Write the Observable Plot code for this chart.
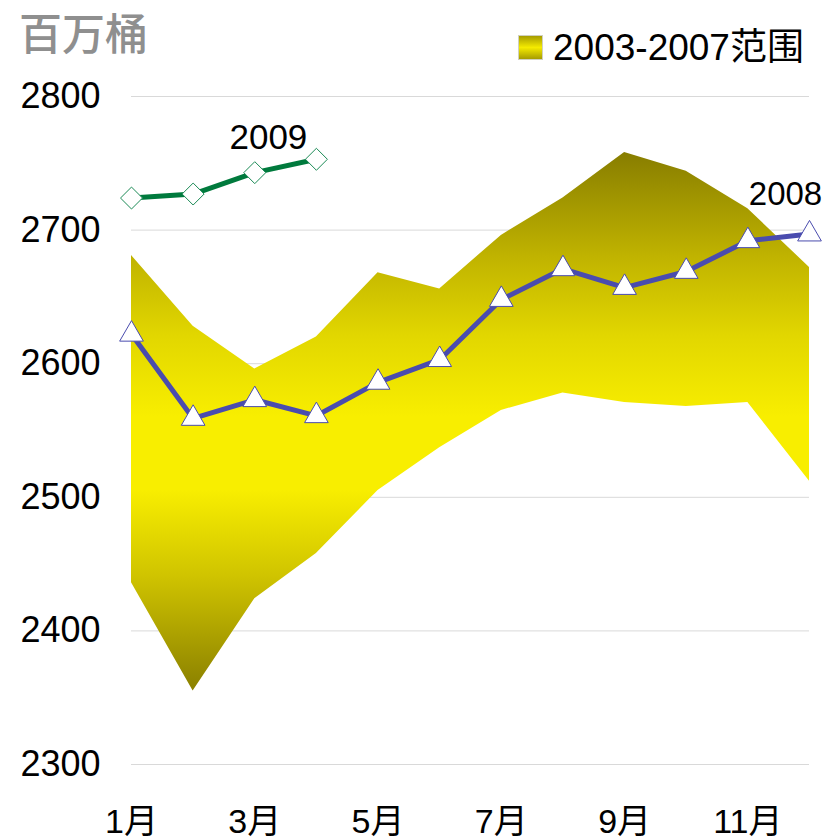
<!DOCTYPE html>
<html>
<head>
<meta charset="utf-8">
<script src="https://cdn.jsdelivr.net/npm/d3@7"></script>
<script src="https://cdn.jsdelivr.net/npm/@observablehq/plot@0.6"></script>
<style>
  html, body { margin: 0; padding: 0; background: #fff; }
  #wrap { width: 829px; font-family: "Liberation Sans", "Noto Sans CJK SC", sans-serif; }
  #header { position: relative; width: 829px; height: 70px; }
  #title { position: absolute; left: 19px; top: 10px; font-size: 43px; line-height: 1; font-weight: 500; color: #8f8f8f; font-family: "Noto Sans CJK SC", sans-serif; white-space: nowrap; }
  #legend { position: absolute; left: 518px; top: 35px; height: 25px; display: flex; align-items: center; white-space: nowrap; }
  #swatch { width: 23px; height: 23px; border: 1px solid #d0d0c0; box-sizing: content-box;
    background: linear-gradient(to bottom, #a69c00 0%, #f5eb00 50%, #a69c00 100%); }
  #legtext { margin-left: 10px; font-size: 37px; line-height: 1; color: #000; }
</style>
</head>
<body>
<div id="wrap">
  <div id="header">
    <div id="title">百万桶</div>
    <div id="legend"><div id="swatch"></div><span id="legtext"></span></div>
  </div>
  <div id="chart"></div>
</div>
<script>
// ---- data ----
const months = [1, 2, 3, 4, 5, 6, 7, 8, 9, 10, 11, 12];
const rangeHigh = [2681, 2628, 2596, 2620, 2668, 2656, 2696, 2724, 2758, 2744, 2716, 2672];
const rangeLow  = [2436, 2355, 2424, 2458, 2505, 2537, 2565, 2578, 2571, 2568, 2571, 2512];
const values2008 = [2622, 2559, 2573, 2561, 2586, 2603, 2648, 2671, 2657, 2669, 2692, 2697];
const months2009 = [1, 2, 3, 4];
const values2009 = [2724, 2727, 2743, 2753];
const yTicks = [2300, 2400, 2500, 2600, 2700, 2800];
const xTicks = [1, 3, 5, 7, 9, 11];
const legendLabel = "2003-2007范围";
const label2008 = "2008";
const label2009 = "2009";

document.getElementById("legtext").textContent = legendLabel;

const band = months.map((m, i) => ({m, lo: rangeLow[i], hi: rangeHigh[i]}));
const s2008 = months.map((m, i) => ({m, v: values2008[i]}));
const s2009 = months2009.map((m, i) => ({m, v: values2009[i]}));

const blue = "#4a4cae";
const green = "#007a3d";

const plot = Plot.plot({
  width: 829,
  height: 770,
  marginTop: 26,
  marginBottom: 76,
  marginLeft: 131,
  marginRight: 20,
  style: {fontFamily: "'Liberation Sans','Noto Sans CJK SC',sans-serif", background: "white", overflow: "visible"},
  x: {domain: [1, 12]},
  y: {domain: [2300, 2800]},
  marks: [
    Plot.ruleY(yTicks, {x1: 1, x2: 12, stroke: "#d9d9d9", strokeWidth: 1}),
    Plot.areaY(band, {x: "m", y1: "lo", y2: "hi", fill: "url(#bandGrad)", className: "band"}),
    Plot.line(s2008, {x: "m", y: "v", stroke: blue, strokeWidth: 5}),
    Plot.dot(s2008, {x: "m", y: "v", symbol: "triangle", r: 8.8, fill: "white", stroke: blue, strokeWidth: 1}),
    Plot.line(s2009, {x: "m", y: "v", stroke: green, strokeWidth: 5}),
    Plot.dot(s2009, {x: "m", y: "v", symbol: "diamond2", r: 9.9, fill: "white", stroke: "#1a8a55", strokeWidth: 1}),
    Plot.text(s2008, Plot.selectLast({x: "m", y: "v", text: () => label2008, dx: -24, dy: -40, fontSize: 33, fill: "black"})),
    Plot.text(s2009, Plot.selectLast({x: "m", y: "v", text: () => label2009, dx: -48, dy: -21, fontSize: 35, fill: "black"})),
    Plot.axisY({ticks: yTicks, tickSize: 0, tickPadding: 31, fontSize: 36, label: null, tickFormat: d => String(d)}),
    Plot.axisX({ticks: xTicks, tickSize: 0, tickPadding: 44, fontSize: 34, label: null, tickFormat: d => d + "月"})
  ]
});

// vertical gradient for the range band, in the chart's own coordinates
const ys = plot.scale("y");
const gTop = ys.apply(2760), gBot = ys.apply(2350);
const stops = [
  {v: 2760, c: "#867c00"},
  {v: 2680, c: "#c0b300"},
  {v: 2620, c: "#e2d700"},
  {v: 2560, c: "#f8ee00"},
  {v: 2505, c: "#f8ee00"},
  {v: 2440, c: "#cfc300"},
  {v: 2350, c: "#867c00"}
];
const svg = d3.select(plot);
const grad = svg.insert("defs", ":first-child").append("linearGradient")
  .attr("id", "bandGrad").attr("gradientUnits", "userSpaceOnUse")
  .attr("x1", 0).attr("x2", 0).attr("y1", gTop).attr("y2", gBot);
stops.forEach(s => {
  grad.append("stop").attr("offset", (ys.apply(s.v) - gTop) / (gBot - gTop)).attr("stop-color", s.c);
});
svg.selectAll(".band path").attr("fill", "url(#bandGrad)");

document.getElementById("chart").appendChild(plot);
</script>
</body>
</html>
